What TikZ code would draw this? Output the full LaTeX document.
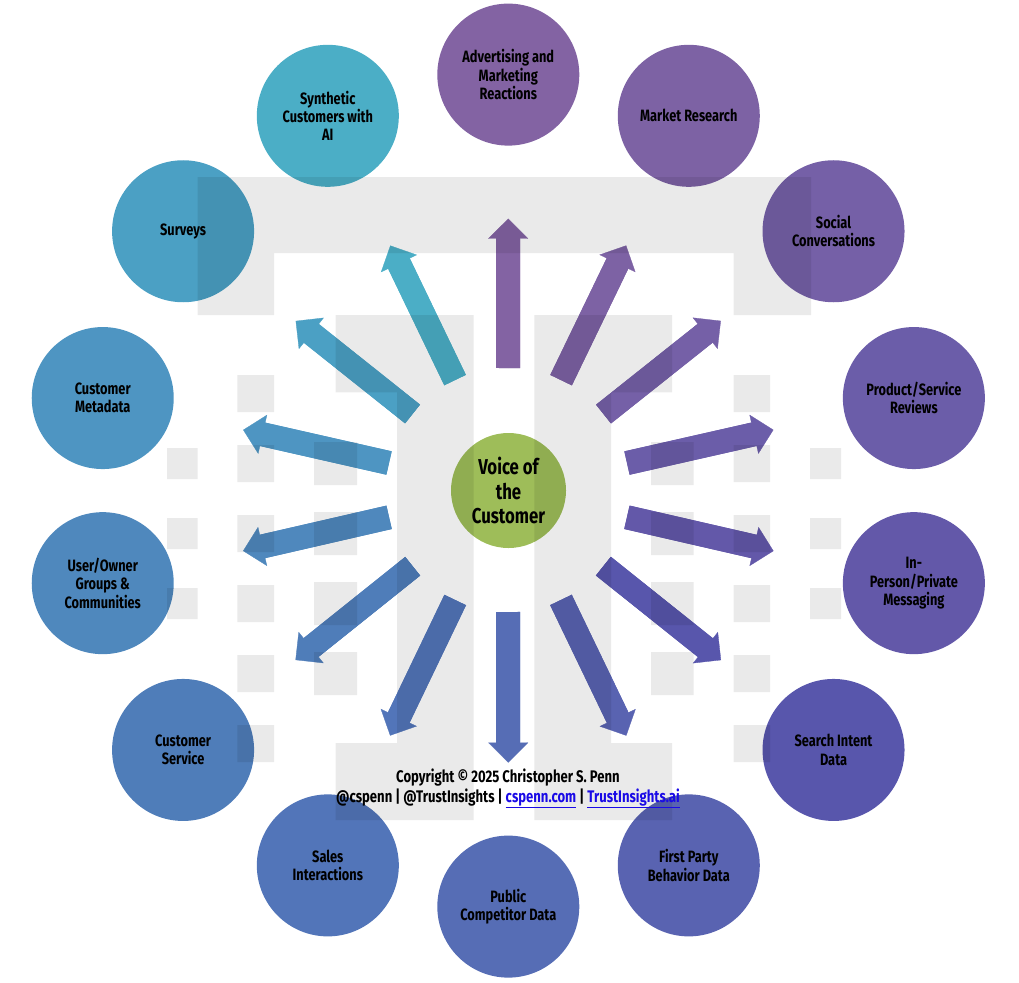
\documentclass[tikz,border=0pt]{standalone}
\usepackage{fontspec}
\setmainfont{Fira Sans}[FakeStretch=0.78]
\usetikzlibrary{arrows.meta,calc}
\definecolor{c0}{HTML}{8363A3}
\definecolor{c1}{HTML}{7D62A4}
\definecolor{c2}{HTML}{7560A7}
\definecolor{c3}{HTML}{6B5DA9}
\definecolor{c4}{HTML}{6358A9}
\definecolor{c5}{HTML}{5856AC}
\definecolor{c6}{HTML}{5963B1}
\definecolor{c7}{HTML}{566DB5}
\definecolor{c8}{HTML}{5275B9}
\definecolor{c9}{HTML}{4F7DB9}
\definecolor{c10}{HTML}{4F88BD}
\definecolor{c11}{HTML}{4E95C2}
\definecolor{c12}{HTML}{4BA0C4}
\definecolor{c13}{HTML}{4BAEC6}
\definecolor{hubgreen}{HTML}{9EBD59}
\definecolor{linkblue}{HTML}{1A0AE6}
\tikzset{
  x=1pt,y=-1pt,
  outernode/.style={circle,minimum size=142pt,inner sep=0pt,fill=#1,align=center,
    font=\fontsize{16.4}{18.3}\selectfont\bfseries,text=black},
  hubnode/.style={circle,minimum size=115pt,inner sep=0pt,fill=hubgreen,align=center,
    font=\fontsize{21.5}{24.5}\selectfont\bfseries,text=black},
  blockarrow/.style={draw=#1,fill=#1,line width=24pt,
    -{Triangle[width=40pt,length=20pt,fill=#1,line width=0.3pt]},shorten <=122pt,shorten >=144pt},
  seamcover/.style={draw=#1,line width=24pt,shorten <=122pt,shorten >=160pt},
  creditnode/.style={align=center,font=\fontsize{16.8}{20}\selectfont\bfseries,text=black,inner sep=0pt},
  logoink/.style={fill=black,fill opacity=0.082,draw=none}
}
\begin{document}
\begin{tikzpicture}
\useasboundingbox (0,0) rectangle (1019,982);
\coordinate (hubc) at (508.3,490.6);
\coordinate (flowc) at (508,490);
\node[hubnode] (hub) at (508.5,490.5) {Voice of\\the\\Customer};
\node[outernode=c0] (n0) at ($(hubc)+(-90:416)$) {Advertising and\\Marketing\\Reactions};
\node[outernode=c1] (n1) at ($(hubc)+(-64.286:416)$) {Market Research};
\node[outernode=c2] (n2) at ($(hubc)+(-38.571:416)$) {Social\\Conversations};
\node[outernode=c3] (n3) at ($(hubc)+(-12.857:416)$) {Product/Service\\Reviews};
\node[outernode=c4] (n4) at ($(hubc)+(12.857:416)$) {In-\\Person/Private\\Messaging};
\node[outernode=c5] (n5) at ($(hubc)+(38.571:416)$) {Search Intent\\Data};
\node[outernode=c6] (n6) at ($(hubc)+(64.286:416)$) {First Party\\Behavior Data};
\node[outernode=c7] (n7) at ($(hubc)+(90:416)$) {Public\\Competitor Data};
\node[outernode=c8] (n8) at ($(hubc)+(115.714:416)$) {Sales\\Interactions};
\node[outernode=c9] (n9) at ($(hubc)+(141.429:416)$) {Customer\\Service};
\node[outernode=c10] (n10) at ($(hubc)+(167.143:416)$) {User/Owner\\Groups \&\\Communities};
\node[outernode=c11] (n11) at ($(hubc)+(192.857:416)$) {Customer\\Metadata};
\node[outernode=c12] (n12) at ($(hubc)+(218.571:416)$) {Surveys};
\node[outernode=c13] (n13) at ($(hubc)+(244.286:416)$) {Synthetic\\Customers with\\AI};
\foreach \k in {0,...,13}{
  \draw[blockarrow=c\k] (flowc) -- (n\k.center);
  \draw[seamcover=c\k] (flowc) -- (n\k.center);
}
% logo overlay
\path[logoink]
 (197.5,177) -- (811,177) -- (811,315) -- (733.5,315) -- (733.5,253) -- (274,253) -- (274,315) -- (197.5,315) -- cycle
 (335.7,315) -- (473.7,315) -- (473.7,820) -- (335.7,820) -- (335.7,743) -- (397,743) -- (397,392.3) -- (335.7,392.3) -- cycle
 (534.3,315) -- (672,315) -- (672,392.3) -- (611,392.3) -- (611,743) -- (672,743) -- (672,820) -- (534.3,820) -- cycle
 (237.3,375) rectangle (274,412) (237.3,445) rectangle (274,482) (237.3,515) rectangle (274,552)
 (237.3,585) rectangle (274,622) (237.3,655) rectangle (274,692) (237.3,725) rectangle (274,762)
 (733.5,375) rectangle (770,412) (733.5,445) rectangle (770,482) (733.5,515) rectangle (770,552)
 (733.5,585) rectangle (770,622) (733.5,655) rectangle (770,692) (733.5,725) rectangle (770,762)
 (314,442) rectangle (357,485) (314,512) rectangle (357,555) (314,582) rectangle (357,625) (314,652) rectangle (357,695)
 (651,442) rectangle (693.7,485) (651,512) rectangle (693.7,555) (651,582) rectangle (693.7,625) (651,652) rectangle (693.7,695)
 (167,448) rectangle (197.7,479) (167,518) rectangle (197.7,549) (167,588) rectangle (197.7,619)
 (810,448) rectangle (841,479) (810,518) rectangle (841,549) (810,588) rectangle (841,619);
\node[creditnode] (credit) at (508,788.5) {Copyright © 2025 Christopher S. Penn\\@cspenn | @TrustInsights | \textcolor{linkblue}{\underline{cspenn.com}} | \textcolor{linkblue}{\underline{TrustInsights.ai}}};
\end{tikzpicture}
\end{document}
